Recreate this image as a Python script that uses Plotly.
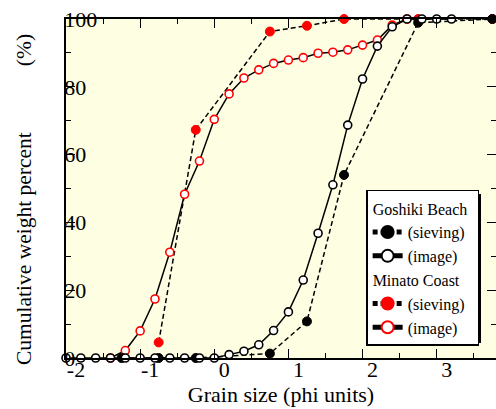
import plotly.graph_objects as go

# ---- data ----
goshiki_sieve_x = [-1.25, -0.75, -0.25, 0.75, 1.25, 1.75, 2.75, 3.75]
goshiki_sieve_y = [0, 0, 0, 1.3, 10.8, 54.0, 98.9, 100]

goshiki_image_x = [-2.0, -1.8, -1.6, -1.4, -1.2, -1.0, -0.8, -0.6, -0.4, -0.2, 0.0,
                   0.2, 0.4, 0.6, 0.8, 1.0, 1.2, 1.4, 1.6, 1.8, 2.0, 2.2, 2.4,
                   2.6, 2.8, 3.0, 3.2]
goshiki_image_y = [0, 0, 0, 0, 0, 0, 0, 0, 0, 0, 0,
                   1.0, 2.0, 3.9, 8.1, 13.6, 23.0, 36.8, 51.1, 68.7, 82.3, 92.0, 97.7,
                   100, 100, 100, 100]

minato_sieve_x = [-0.75, -0.25, 0.75, 1.25, 1.75, 2.75, 3.75]
minato_sieve_y = [4.6, 67.3, 96.3, 98.0, 100, 100, 100]

minato_image_x = [-1.4, -1.2, -1.0, -0.8, -0.6, -0.4, -0.2, 0.0, 0.2, 0.4, 0.6,
                  0.8, 1.0, 1.2, 1.4, 1.6, 1.8, 2.0, 2.2, 2.4, 2.6]
minato_image_y = [0, 2.2, 8.0, 17.4, 31.2, 48.3, 58.1, 70.4, 77.9, 82.6, 85.0,
                  86.9, 87.9, 88.6, 89.9, 90.2, 90.9, 92.3, 93.8, 98.2, 100]

x_tickvals = [-2, -1, 0, 1, 2, 3]
x_ticktext = ["-2", "-1", "0", "1", "2", "3"]
x_minorvals = [-1.5, -0.5, 0.5, 1.5, 2.5, 3.5]
y_tickvals = [0, 20, 40, 60, 80, 100]
y_ticktext = ["0", "20", "40", "60", "80", "100"]
y_minorvals = [10, 30, 50, 70, 90]

FONT = "Liberation Serif"
LW = 1.5

fig = go.Figure()

# Minato Coast (drawn first, under the black series)
fig.add_trace(go.Scatter(
    x=minato_sieve_x, y=minato_sieve_y, mode="lines+markers",
    name="(sieving)", legendgroup="minato", legendrank=3,
    legendgrouptitle=dict(text="Minato Coast", font=dict(size=16, family=FONT, color="black")),
    line=dict(color="black", width=LW, dash="5px,3px"),
    marker=dict(symbol="circle", size=9, color="#ff0000", line=dict(color="#ff0000", width=1)),
    cliponaxis=False))
fig.add_trace(go.Scatter(
    x=minato_image_x, y=minato_image_y, mode="lines+markers",
    name="(image)", legendgroup="minato", legendrank=4,
    line=dict(color="black", width=LW),
    marker=dict(symbol="circle", size=8, color="white", line=dict(color="#ff0000", width=1.6)),
    cliponaxis=False))

# Goshiki Beach
fig.add_trace(go.Scatter(
    x=goshiki_sieve_x, y=goshiki_sieve_y, mode="lines+markers",
    name="(sieving)", legendgroup="goshiki", legendrank=1,
    legendgrouptitle=dict(text="Goshiki Beach", font=dict(size=16, family=FONT, color="black")),
    line=dict(color="black", width=LW, dash="5px,3px"),
    marker=dict(symbol="circle", size=9, color="black", line=dict(color="black", width=1)),
    cliponaxis=False))
fig.add_trace(go.Scatter(
    x=goshiki_image_x, y=goshiki_image_y, mode="lines+markers",
    name="(image)", legendgroup="goshiki", legendrank=2,
    line=dict(color="black", width=LW),
    marker=dict(symbol="circle", size=8, color="white", line=dict(color="black", width=1.6)),
    cliponaxis=False))

# legend drop shadow (paper coordinates)
L, T, PW, PH = 66, 19, 430, 339
def px_x(p): return (p - L) / PW
def px_y(p): return (T + PH - p) / PH

fig.update_layout(
    width=496, height=409,
    margin=dict(l=66, r=0, t=19, b=51),
    paper_bgcolor="white",
    plot_bgcolor="#FEFEE2",
    font=dict(family=FONT, color="black", size=22),
    showlegend=True,
    legend=dict(
        x=0.698, y=0.496, xanchor="left", yanchor="top",
        bgcolor="white", bordercolor="black", borderwidth=1.5,
        font=dict(size=16, family=FONT, color="black"),
        tracegroupgap=0, itemsizing="constant",
    ),
    shapes=[dict(type="rect", xref="paper", yref="paper", layer="above",
                 x0=px_x(370), x1=px_x(481), y0=px_y(343), y1=px_y(194),
                 fillcolor="black", line=dict(width=0))],
)

fig.update_xaxes(
    range=[-2, 3.8],
    tickmode="array", tickvals=x_tickvals, ticktext=x_ticktext,
    ticks="inside", ticklen=9, tickwidth=1.2, tickcolor="black",
    minor=dict(tickmode="array", tickvals=x_minorvals, ticks="inside",
               ticklen=5, tickwidth=1.2, tickcolor="black"),
    showline=True, linecolor="black", linewidth=1.5, mirror="ticks",
    showgrid=False, zeroline=False,
    tickfont=dict(size=22, family=FONT, color="black"),
    ticklabelshift=10, ticklabelstandoff=-9,
    title=dict(text="Grain size (phi units)", font=dict(size=22, family=FONT, color="black"),
               standoff=3),
    automargin=False,
)

fig.update_yaxes(
    range=[0, 100],
    tickmode="array", tickvals=y_tickvals, ticktext=y_ticktext,
    ticks="inside", ticklen=9, tickwidth=1.2, tickcolor="black",
    minor=dict(tickmode="array", tickvals=y_minorvals, ticks="inside",
               ticklen=5, tickwidth=1.2, tickcolor="black"),
    showline=True, linecolor="black", linewidth=1.5, mirror="ticks",
    showgrid=False, zeroline=False,
    ticklabelposition="inside", ticklabeloverflow="allow", ticklabelstandoff=-9,
    tickfont=dict(size=22, family=FONT, color="black"),
    title=dict(text="Cumulative weight percent" + "\u3000\u3000\u3000" + "(%)" + "\u3000\u200b",
               font=dict(size=21.5, family=FONT, color="black"), standoff=27),
    automargin=False,
)

fig.write_html("out.html", config={"displayModeBar": False},
               post_script="document.body.style.margin='0';")
